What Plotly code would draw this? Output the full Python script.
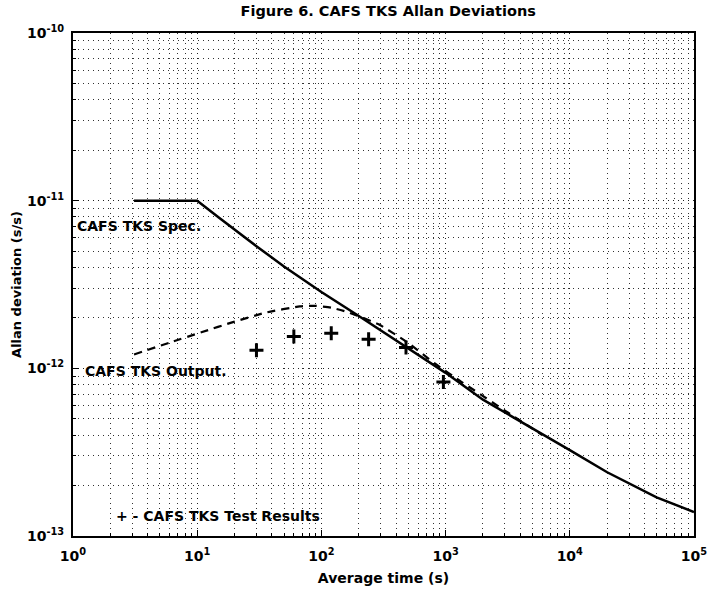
import plotly.graph_objects as go

# Spec line
spec_tau = [3.1, 10, 15, 20, 30, 50, 100, 200, 500, 1000, 2000, 5000, 10000, 20000, 30000, 50000, 100000]
spec_val = [1e-11, 1e-11, 7.9e-12, 6.7e-12, 5.35e-12, 4.05e-12, 2.85e-12, 2.05e-12, 1.31e-12, 9.4e-13,
            6.5e-13, 4.4e-13, 3.25e-13, 2.4e-13, 2.05e-13, 1.7e-13, 1.39e-13]

# Output (dashed) curve
out_tau = [3.1, 6.1, 10.8, 20, 36.6, 67, 88, 120, 164, 289, 491, 818, 1340, 1700, 3000, 6000]
out_val = [1.21e-12, 1.43e-12, 1.64e-12, 1.90e-12, 2.16e-12, 2.34e-12, 2.36e-12, 2.3e-12, 2.16e-12,
           1.83e-12, 1.43e-12, 1.07e-12, 8.3e-13, 7.4e-13, 5.6e-13, 4.0e-13]

# Test results (+ markers)
test_tau = [30, 60, 120, 240, 480, 960]
test_val = [1.28e-12, 1.55e-12, 1.62e-12, 1.49e-12, 1.33e-12, 8.3e-13]

# Tick labels
x_tickvals = [1, 10, 100, 1000, 10000, 100000]
x_ticktext = ["10<sup>0</sup>", "10<sup>1</sup>", "10<sup>2</sup>", "10<sup>3</sup>",
              "10<sup>4</sup>", "10<sup>5</sup>"]
y_tickvals = [1e-13, 1e-12, 1e-11, 1e-10]
y_ticktext = ["10<sup>-13</sup>", "10<sup>-12</sup>", "10<sup>-11</sup>", "10<sup>-10</sup>"]

FONT = "DejaVu Sans"

fig = go.Figure()
fig.add_trace(go.Scatter(x=spec_tau, y=spec_val, mode="lines",
                         line=dict(color="black", width=2.5),
                         showlegend=False))
fig.add_trace(go.Scatter(x=out_tau, y=out_val, mode="lines",
                         line=dict(color="black", width=2.2, dash="8px,6px", shape="spline", smoothing=0.5),
                         showlegend=False))
fig.add_trace(go.Scatter(x=test_tau, y=test_val, mode="markers",
                         marker=dict(symbol="cross-thin", size=10, line=dict(color="black", width=3)),
                         showlegend=False))

axis_common = dict(
    type="log", showline=True, linecolor="black",
    linewidth=2, mirror=True, ticks="inside", ticklen=6, tickcolor="black",
    showgrid=True, gridcolor="#222", griddash="1px,4px", gridwidth=1.3,
    minor=dict(dtick="D1", showgrid=True, gridcolor="#333", griddash="1px,4px", gridwidth=1.2,
               ticks="inside", ticklen=3, tickcolor="black"),
    tickfont=dict(family=FONT, size=14, color="black", weight="bold"),
    zeroline=False,
)

fig.update_xaxes(range=[-0.0001, 5.0001], tickmode="array", tickvals=x_tickvals, ticktext=x_ticktext,
                 ticklabelstandoff=6,
                 title=dict(text="Average time (s)", standoff=10,
                            font=dict(family=FONT, size=14, color="black", weight="bold")),
                 **axis_common)
fig.update_yaxes(range=[-13.0001, -9.9999], tickmode="array", tickvals=y_tickvals, ticktext=y_ticktext,
                 ticklabelstandoff=4,
                 title=dict(text="Allan deviation (s/s)", standoff=2,
                            font=dict(family=FONT, size=13, color="black", weight="bold")),
                 **axis_common)

annots = [
    dict(text="CAFS TKS Spec.", x=0.003, y=0.616),
    dict(text="CAFS TKS Output.", x=0.016, y=0.329),
    dict(text="+ - CAFS TKS Test Results", x=0.066, y=0.040),
]
for a in annots:
    fig.add_annotation(text=a["text"], x=a["x"], y=a["y"], xref="paper", yref="paper",
                       xanchor="left", yanchor="middle", showarrow=False,
                       font=dict(family=FONT, size=14, color="black", weight="bold"))

fig.update_layout(
    width=719, height=596,
    margin=dict(l=73, r=16, t=33, b=58),
    paper_bgcolor="white", plot_bgcolor="white",
    title=dict(text="Figure 6. CAFS TKS Allan Deviations", x=0.54, xanchor="center",
               y=0.99, yanchor="top",
               font=dict(family=FONT, size=14.5, color="black", weight="bold")),
)

fig.write_html("out.html")
